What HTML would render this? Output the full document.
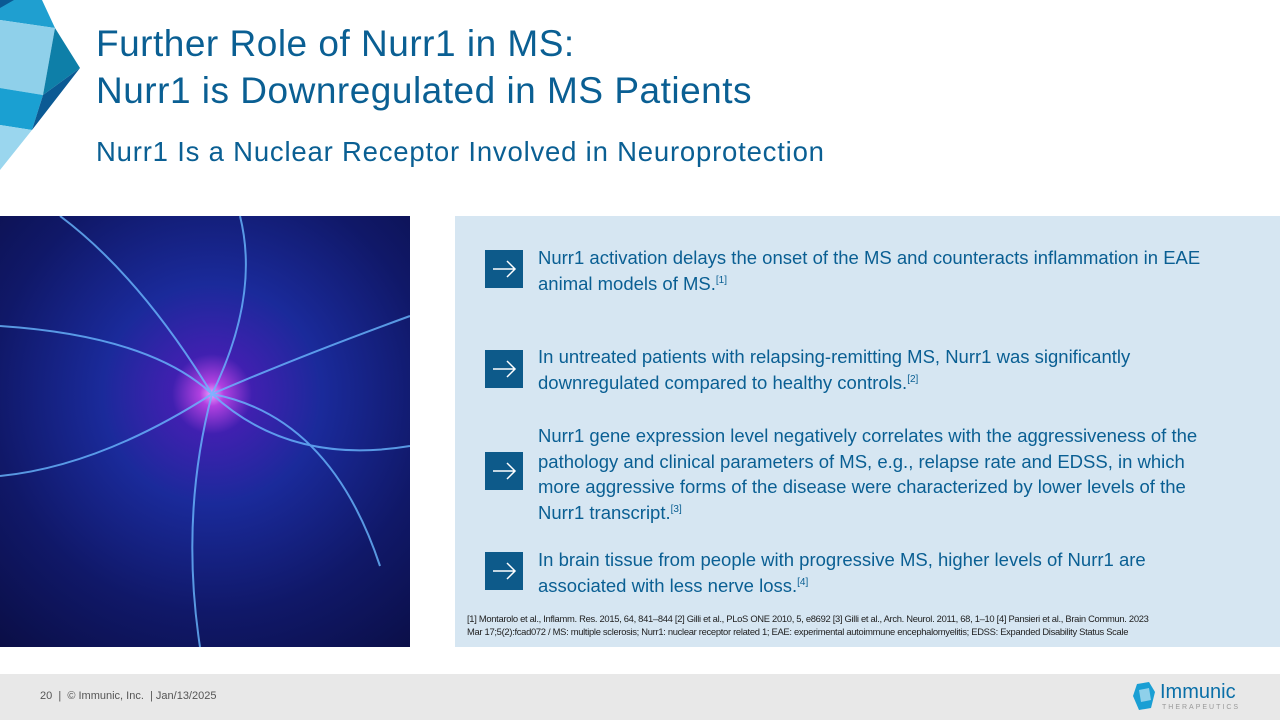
<!DOCTYPE html>
<html><head><meta charset="utf-8"><style>
body{margin:0;width:1280px;height:720px;position:relative;overflow:hidden;background:#fff;font-family:"Liberation Sans",sans-serif;}
.t{position:absolute;left:96px;color:#0a5f93;font-size:37px;line-height:40px;letter-spacing:0.5px;}
.sub{position:absolute;left:96px;top:136px;color:#0a5f93;font-size:27.5px;letter-spacing:0.8px;}
.img{position:absolute;left:0;top:216px;width:410px;height:431px;background:radial-gradient(circle at 212px 178px,#f0a0ff 0,#b040e0 12px,#4020b0 40px,#1a2a9a 110px,#101868 220px,#06062a 420px);}
.panel{position:absolute;left:455px;top:216px;width:825px;height:431px;background:#d6e6f2;}
.b{position:absolute;left:30px;width:38px;height:38px;background:#0d5a8a;}
.tx{position:absolute;left:83px;width:688px;color:#0a5f93;font-size:18.5px;line-height:25.5px;}
sup{font-size:10px;line-height:0;}
.ref{position:absolute;left:12px;top:396px;width:800px;font-size:9.4px;line-height:13px;color:#222;letter-spacing:-0.3px;white-space:nowrap;}
.foot{position:absolute;left:0;top:674px;width:1280px;height:46px;background:#e8e8e8;}
</style></head><body>
<svg style="position:absolute;left:0;top:0" width="90" height="175">
<polygon points="0,0 42,0 55,28 0,20" fill="#1f9fd0"/>
<polygon points="0,20 55,28 43,95 0,88" fill="#8fd0ea"/>
<polygon points="0,88 43,95 32,130 0,125" fill="#1aa0d2"/>
<polygon points="0,125 32,130 0,170" fill="#9ad6ee"/>
<polygon points="55,28 80,68 43,95" fill="#0e7fa8"/>
<polygon points="43,95 80,68 32,130" fill="#0b5a94"/>
<polygon points="0,0 14,0 0,8" fill="#0b5a94"/>
</svg>
<div class="t" style="top:24px">Further Role of Nurr1 in MS:</div>
<div class="t" style="top:71px">Nurr1 is Downregulated in MS Patients</div>
<div class="sub">Nurr1 Is a Nuclear Receptor Involved in Neuroprotection</div>
<div class="img"><svg width="410" height="431" style="position:absolute;left:0;top:0" fill="none" stroke="#6ab8ff" stroke-width="2" opacity="0.8">
<path d="M212 178 Q150 120 0 110"/><path d="M212 178 Q260 80 240 0"/><path d="M212 178 Q300 140 410 100"/><path d="M212 178 Q330 200 380 350"/><path d="M212 178 Q180 300 200 431"/><path d="M212 178 Q100 250 0 260"/><path d="M212 178 Q140 60 60 0"/><path d="M212 178 Q290 250 410 230"/></svg></div>
<div class="panel">
<div class="b" style="top:34px"></div><div class="tx" style="top:29px">Nurr1 activation delays the onset of the MS and counteracts inflammation in EAE animal models of MS.<sup>[1]</sup></div>
<div class="b" style="top:134px"></div><div class="tx" style="top:128px">In untreated patients with relapsing-remitting MS, Nurr1 was significantly downregulated compared to healthy controls.<sup>[2]</sup></div>
<div class="b" style="top:236px"></div><div class="tx" style="top:207px">Nurr1 gene expression level negatively correlates with the aggressiveness of the pathology and clinical parameters of MS, e.g., relapse rate and EDSS, in which more aggressive forms of the disease were characterized by lower levels of the Nurr1 transcript.<sup>[3]</sup></div>
<div class="b" style="top:336px"></div><div class="tx" style="top:331px">In brain tissue from people with progressive MS, higher levels of Nurr1 are associated with less nerve loss.<sup>[4]</sup></div>
<div class="ref">[1] Montarolo et al., Inflamm. Res. 2015, 64, 841–844 [2] Gilli et al., PLoS ONE 2010, 5, e8692 [3] Gilli et al., Arch. Neurol. 2011, 68, 1–10 [4] Pansieri et al., Brain Commun. 2023<br>Mar 17;5(2):fcad072 / MS: multiple sclerosis; Nurr1: nuclear receptor related 1; EAE: experimental autoimmune encephalomyelitis; EDSS: Expanded Disability Status Scale</div>
</div>
<svg style="position:absolute;left:485px;top:250px" width="38" height="360" stroke="#fff" stroke-width="1.5" fill="none">
<g><path d="M8 19H30M22 11L30 19L22 27"/></g>
<g transform="translate(0,100)"><path d="M8 19H30M22 11L30 19L22 27"/></g>
<g transform="translate(0,202)"><path d="M8 19H30M22 11L30 19L22 27"/></g>
<g transform="translate(0,302)"><path d="M8 19H30M22 11L30 19L22 27"/></g>
</svg>
<div class="foot">
<div style="position:absolute;left:40px;top:16px;font-size:11px;color:#555">20 &nbsp;| &nbsp;© Immunic, Inc. &nbsp;| Jan/13/2025</div>
<svg style="position:absolute;left:1131px;top:8px" width="26" height="30"><polygon points="6,2 18,0 24,10 20,26 8,28 2,14" fill="#1a9fd4"/><polygon points="8,8 18,6 20,18 10,20" fill="#8fd0ea"/></svg>
<div style="position:absolute;left:1160px;top:7px;font-size:20px;color:#0a6fa8">Immunic</div>
<div style="position:absolute;left:1162px;top:30px;font-size:7px;letter-spacing:2px;color:#999">THERAPEUTICS</div>
</div>
</body></html>
